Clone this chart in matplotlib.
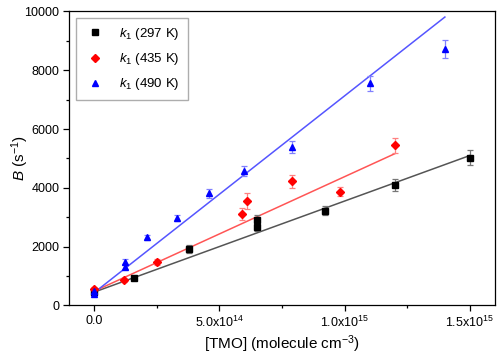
import numpy as np
import matplotlib.pyplot as plt
from matplotlib.lines import Line2D

# data
tmo_297 = [0.0, 1.6e14, 3.8e14, 6.5e14, 6.5e14, 9.2e14, 1.2e15, 1.5e15]
b_297 = [440, 930, 1920, 2920, 2670, 3220, 4100, 5030]
err_297 = [80, 60, 130, 140, 140, 160, 200, 255]

tmo_435 = [0.0, 1.2e14, 2.5e14, 5.9e14, 6.1e14, 7.9e14, 9.8e14, 1.2e15]
b_435 = [560, 875, 1490, 3110, 3540, 4230, 3870, 5440]
err_435 = [80, 70, 100, 200, 270, 220, 150, 270]

tmo_490 = [0.0, 0.0, 1.23e14, 1.23e14, 2.13e14, 3.3e14, 4.6e14, 6.0e14, 7.9e14, 1.1e15, 1.4e15]
b_490 = [400, 480, 1490, 1320, 2310, 2970, 3810, 4560, 5400, 7550, 8710]
err_490 = [70, 70, 90, 90, 100, 100, 150, 170, 200, 250, 310]

# linear fits as drawn (slope, intercept, x end)
fit_297 = (3.1e-12, 450, 1.5e15)
fit_435 = (3.9e-12, 480, 1.2e15)
fit_490 = (6.7e-12, 430, 1.4e15)

xticks = [0.0, 5e14, 1e15, 1.5e15]
xticklabels = ["0.0", r"5.0x10$^{14}$", r"1.0x10$^{15}$", r"1.5x10$^{15}$"]

plt.rcParams.update({
    "font.family": ["Liberation Sans", "DejaVu Sans"],
    "mathtext.fontset": "custom",
    "mathtext.rm": "Liberation Sans",
    "mathtext.it": "Liberation Sans:italic",
    "font.size": 9,
    "axes.linewidth": 0.9,
})

fig = plt.figure(figsize=(5.0, 3.58), dpi=100)
ax = fig.add_axes([0.138, 0.147, 0.852, 0.821])

series = [
    (tmo_297, b_297, err_297, fit_297, "s", "#000000", "#777777", "#555555", r"$k_1$ (297 K)"),
    (tmo_435, b_435, err_435, fit_435, "D", "#ff0000", "#ff8080", "#ff5555", r"$k_1$ (435 K)"),
    (tmo_490, b_490, err_490, fit_490, "^", "#0000ff", "#8080ff", "#5555ff", r"$k_1$ (490 K)"),
]

handles = []
for x, y, e, fit, mk, col, ecol, lcol, lab in series:
    slope, icpt, xend = fit
    xx = np.array([0.0, xend])
    ax.plot(xx, slope * xx + icpt, color=lcol, lw=1.1, zorder=2)
    ms = 5 if mk != "D" else 4.5
    ax.errorbar(x, y, yerr=e, fmt=mk, color=col, ecolor=ecol, elinewidth=0.9,
                capsize=2.5, capthick=0.9, ms=ms, zorder=3)
    handles.append(Line2D([], [], ls="none", marker=mk, color=col, ms=ms * 0.8, label=lab))

ax.set_xlim(-1e14, 1.6e15)
ax.set_ylim(0, 10000)
ax.set_xticks(xticks)
ax.set_xticklabels(xticklabels)
ax.set_xticks(np.arange(0, 1.6e15, 2.5e14), minor=True)
ax.set_yticks(np.arange(0, 10001, 2000))
ax.set_yticks(np.arange(0, 10001, 1000), minor=True)
ax.tick_params(direction="out", length=4, width=0.9, pad=3)
ax.tick_params(which="minor", direction="out", length=2.5, width=0.9)

ax.set_xlabel(r"[TMO] (molecule cm$^{-3}$)", fontsize=11, labelpad=2)
ax.set_ylabel(r"$B$ (s$^{-1}$)", fontsize=11)
ax.yaxis.set_label_coords(-0.09, 0.5)

leg = ax.legend(handles=handles, loc="upper left", frameon=True, fancybox=False,
                fontsize=9.5, handletextpad=0.9, labelspacing=0.7, borderpad=0.6,
                handlelength=1.8, borderaxespad=0.5)
leg.get_frame().set_edgecolor("#999999")
leg.get_frame().set_linewidth(1.0)

fig.savefig("out.png", dpi=100)
